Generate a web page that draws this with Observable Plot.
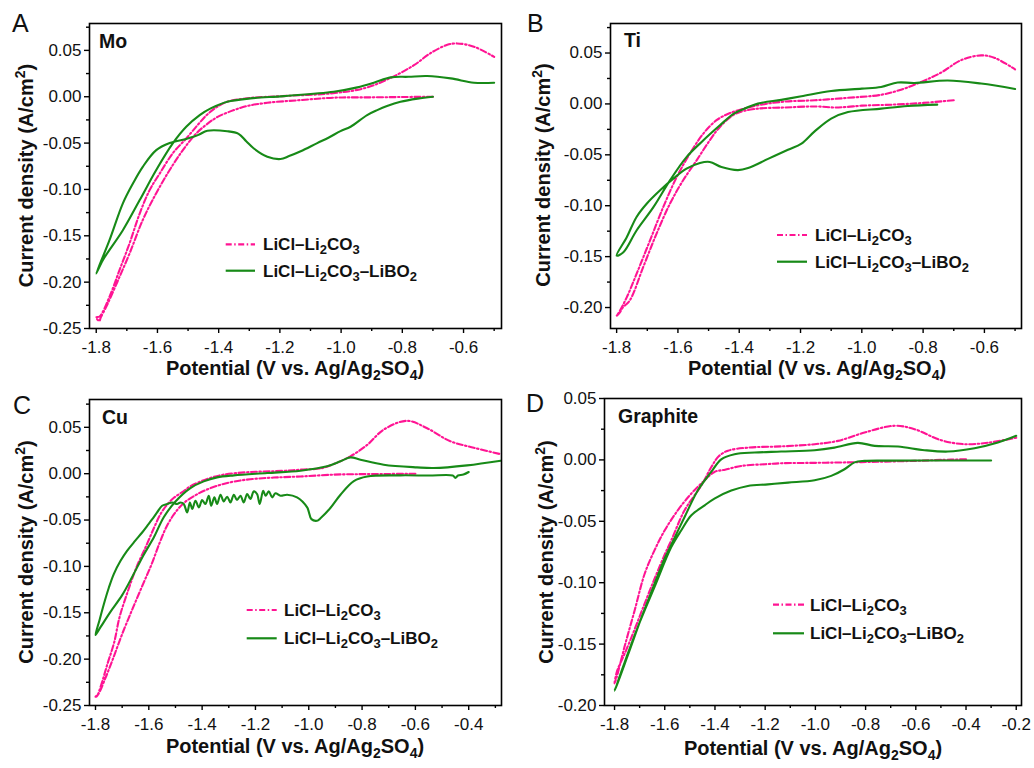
<!DOCTYPE html>
<html>
<head>
<meta charset="utf-8">
<script src="https://cdn.jsdelivr.net/npm/d3@7"></script>
<script src="https://cdn.jsdelivr.net/npm/@observablehq/plot@0.6"></script>
<style>
  html, body { margin: 0; padding: 0; background: #fff; }
  #fig { position: relative; width: 1034px; height: 768px; overflow: hidden; }
  #fig svg { position: absolute; }
</style>
</head>
<body>
<div id="fig"></div>
<script>
// ---------------- DATA (potential V, current density A/cm2), in scan order ----------------
const moPink = [[-0.70,0.000],[-0.80,-0.0003],[-0.915,-0.0007],[-1.024,-0.001],[-1.132,-0.0036],[-1.241,-0.0065],[-1.307,-0.010],[-1.35,-0.0144],[-1.405,-0.022],[-1.44,-0.030],[-1.473,-0.0395],[-1.517,-0.0576],[-1.56,-0.079],[-1.604,-0.104],[-1.648,-0.133],[-1.691,-0.169],[-1.73,-0.199],[-1.765,-0.225],[-1.785,-0.238],[-1.79,-0.242],[-1.80,-0.238],
  [-1.789,-0.237],[-1.757,-0.216],[-1.724,-0.187],[-1.691,-0.158],[-1.658,-0.126],[-1.626,-0.101],[-1.593,-0.083],[-1.55,-0.061],[-1.506,-0.045],[-1.47,-0.031],[-1.44,-0.020],[-1.41,-0.012],[-1.372,-0.0054],[-1.30,-0.0014],[-1.19,0.0007],[-1.02,0.004],[-0.915,0.010],[-0.828,0.022],[-0.762,0.034],[-0.708,0.047],[-0.653,0.056],[-0.621,0.0575],[-0.566,0.054],[-0.50,0.043]];
const moGreen = [[-0.70,0.000],[-0.75,-0.002],[-0.806,-0.0054],[-0.85,-0.010],[-0.882,-0.0144],[-0.915,-0.0198],[-0.969,-0.0324],[-1.002,-0.0371],[-1.04,-0.044],[-1.078,-0.050],[-1.132,-0.0588],[-1.17,-0.064],[-1.198,-0.0672],[-1.241,-0.0647],[-1.285,-0.0558],[-1.31,-0.048],[-1.335,-0.040],[-1.372,-0.0372],[-1.437,-0.0367],[-1.462,-0.0405],[-1.48,-0.043],[-1.506,-0.0455],[-1.56,-0.0500],[-1.604,-0.0576],[-1.648,-0.0756],[-1.68,-0.0935],[-1.713,-0.115],[-1.757,-0.155],[-1.80,-0.1907],
  [-1.778,-0.176],[-1.713,-0.144],[-1.658,-0.1115],[-1.604,-0.079],[-1.55,-0.0503],[-1.506,-0.0324],[-1.462,-0.0198],[-1.426,-0.0126],[-1.372,-0.0054],[-1.296,-0.0018],[-1.187,0.0007],[-1.024,0.0054],[-0.947,0.0101],[-0.893,0.0151],[-0.838,0.0209],[-0.78,0.0215],[-0.719,0.0223],[-0.642,0.0198],[-0.566,0.0151],[-0.50,0.0151]];

const tiPink = [[-0.70,0.0036],[-0.80,0.001],[-0.90,-0.0007],[-1.00,-0.0017],[-1.05,-0.003],[-1.09,-0.0035],[-1.15,-0.0025],[-1.25,-0.0035],[-1.35,-0.005],[-1.414,-0.010],[-1.463,-0.0226],[-1.496,-0.0357],[-1.539,-0.0554],[-1.583,-0.075],[-1.626,-0.098],[-1.67,-0.1276],[-1.713,-0.160],[-1.757,-0.193],[-1.78,-0.200],[-1.79,-0.205],[-1.80,-0.208],
  [-1.795,-0.206],[-1.767,-0.19],[-1.735,-0.167],[-1.691,-0.134],[-1.648,-0.1014],[-1.604,-0.0719],[-1.561,-0.0488],[-1.517,-0.0291],[-1.474,-0.016],[-1.43,-0.009],[-1.35,-0.002],[-1.263,0.002],[-1.154,0.0036],[-1.045,0.006],[-0.937,0.009],[-0.872,0.014],[-0.806,0.0216],[-0.74,0.031],[-0.676,0.043],[-0.611,0.0477],[-0.568,0.0454],[-0.50,0.034]];
const tiGreen = [[-0.754,-0.0007],[-0.85,-0.002],[-0.937,-0.0046],[-1.045,-0.008],[-1.10,-0.0144],[-1.154,-0.027],[-1.197,-0.039],[-1.241,-0.045],[-1.306,-0.054],[-1.371,-0.063],[-1.404,-0.065],[-1.458,-0.062],[-1.496,-0.057],[-1.528,-0.058],[-1.572,-0.0636],[-1.615,-0.0734],[-1.659,-0.085],[-1.702,-0.098],[-1.735,-0.111],[-1.767,-0.131],[-1.80,-0.149],
  [-1.778,-0.1457],[-1.735,-0.1243],[-1.68,-0.1014],[-1.626,-0.0751],[-1.572,-0.0522],[-1.517,-0.0357],[-1.463,-0.021],[-1.42,-0.010],[-1.393,-0.006],[-1.339,0.0003],[-1.263,0.004],[-1.197,0.0075],[-1.10,0.0127],[-1.00,0.015],[-0.937,0.0167],[-0.883,0.021],[-0.828,0.0206],[-0.72,0.023],[-0.611,0.020],[-0.50,0.0147]];

const cuPink = [[-0.60,0.000],[-0.70,-0.0003],[-0.80,-0.0005],[-0.906,-0.001],[-1.031,-0.003],[-1.131,-0.0042],[-1.22,-0.006],[-1.281,-0.0085],[-1.331,-0.012],[-1.381,-0.017],[-1.43,-0.024],[-1.47,-0.032],[-1.506,-0.044],[-1.535,-0.058],[-1.56,-0.075],[-1.59,-0.098],[-1.62,-0.118],[-1.66,-0.145],[-1.70,-0.173],[-1.735,-0.200],[-1.765,-0.222],[-1.79,-0.238],[-1.80,-0.2405],
  [-1.795,-0.24],[-1.78,-0.229],[-1.755,-0.205],[-1.73,-0.182],[-1.71,-0.155],[-1.68,-0.128],[-1.645,-0.100],[-1.61,-0.078],[-1.58,-0.058],[-1.555,-0.043],[-1.53,-0.033],[-1.506,-0.026],[-1.47,-0.019],[-1.444,-0.0135],[-1.381,-0.0057],[-1.319,-0.001],[-1.219,0.0018],[-1.10,0.003],[-1.031,0.0043],[-0.95,0.006],[-0.906,0.0104],[-0.844,0.0187],[-0.781,0.031],[-0.719,0.0475],[-0.631,0.057],[-0.556,0.049],[-0.469,0.035],[-0.381,0.028],[-0.28,0.021]];
const cuGreen = [[-0.40,0.0018],[-0.42,-0.001],[-0.44,-0.002],[-0.45,-0.0045],[-0.46,-0.002],[-0.55,-0.002],[-0.656,-0.0018],[-0.781,-0.003],[-0.831,-0.008],[-0.881,-0.0227],[-0.919,-0.037],[-0.956,-0.048],[-0.969,-0.0508],[-0.99,-0.049],[-1.006,-0.0364],[-1.044,-0.0256],[-1.081,-0.0227],[-1.106,-0.0238],
  [-1.125,-0.0212],[-1.137,-0.0256],[-1.150,-0.0191],[-1.162,-0.0238],[-1.171,-0.0184],[-1.184,-0.0327],[-1.194,-0.0219],[-1.206,-0.0191],[-1.219,-0.0273],[-1.231,-0.0219],[-1.244,-0.031],[-1.256,-0.0238],[-1.269,-0.0284],[-1.281,-0.0227],[-1.294,-0.031],[-1.306,-0.0248],[-1.319,-0.0299],[-1.331,-0.0227],[-1.344,-0.0327],[-1.354,-0.0256],[-1.366,-0.0346],[-1.375,-0.0238],[-1.388,-0.0327],[-1.40,-0.0284],[-1.412,-0.0364],[-1.425,-0.0292],[-1.437,-0.0381],[-1.446,-0.031],[-1.456,-0.0418],[-1.469,-0.0327],[-1.481,-0.031],[-1.494,-0.0327],[-1.512,-0.031],[-1.531,-0.0327],[-1.55,-0.0346],[-1.569,-0.0418],[-1.587,-0.049],[-1.606,-0.0562],[-1.625,-0.0634],[-1.65,-0.072],[-1.681,-0.083],[-1.706,-0.094],[-1.731,-0.108],[-1.75,-0.123],[-1.769,-0.141],[-1.785,-0.158],[-1.80,-0.174],
  [-1.78,-0.165],[-1.744,-0.149],[-1.70,-0.131],[-1.66,-0.110],[-1.62,-0.088],[-1.58,-0.068],[-1.544,-0.047],[-1.50,-0.030],[-1.444,-0.0155],[-1.394,-0.0083],[-1.344,-0.004],[-1.281,-0.0018],[-1.156,0.0007],[-1.031,0.0032],[-0.931,0.0079],[-0.881,0.0133],[-0.844,0.0176],[-0.806,0.0151],[-0.719,0.0097],[-0.594,0.0068],[-0.531,0.0061],[-0.406,0.009],[-0.28,0.014]];

const grPink = [[-0.40,0.0005],[-0.50,0.000],[-0.605,-0.0008],[-0.75,-0.0015],[-0.87,-0.002],[-1.003,-0.0024],[-1.136,-0.0027],[-1.20,-0.0035],[-1.295,-0.0049],[-1.36,-0.008],[-1.402,-0.0098],[-1.441,-0.0166],[-1.494,-0.0274],[-1.548,-0.041],[-1.60,-0.0573],[-1.641,-0.0737],[-1.68,-0.0927],[-1.72,-0.1226],[-1.76,-0.152],[-1.793,-0.178],[-1.80,-0.182],
  [-1.79,-0.172],[-1.76,-0.158],[-1.72,-0.138],[-1.68,-0.117],[-1.641,-0.097],[-1.60,-0.077],[-1.574,-0.0655],[-1.521,-0.041],[-1.455,-0.021],[-1.415,-0.006],[-1.385,0.003],[-1.348,0.0075],[-1.269,0.010],[-1.136,0.011],[-1.003,0.0128],[-0.91,0.0155],[-0.804,0.0223],[-0.684,0.0278],[-0.605,0.025],[-0.499,0.016],[-0.406,0.0128],[-0.313,0.014],[-0.20,0.018]];
const grGreen = [[-0.30,-0.0005],[-0.50,-0.0005],[-0.70,-0.0006],[-0.804,-0.0008],[-0.844,-0.002],[-0.884,-0.0076],[-0.937,-0.013],[-1.003,-0.0166],[-1.109,-0.0185],[-1.189,-0.0199],[-1.269,-0.0212],[-1.335,-0.025],[-1.402,-0.0315],[-1.441,-0.037],[-1.494,-0.0451],[-1.534,-0.0573],[-1.574,-0.071],[-1.641,-0.1036],[-1.707,-0.136],[-1.76,-0.165],[-1.80,-0.188],
  [-1.79,-0.183],[-1.747,-0.159],[-1.694,-0.129],[-1.641,-0.101],[-1.60,-0.080],[-1.574,-0.069],[-1.521,-0.0465],[-1.468,-0.0247],[-1.415,-0.0098],[-1.375,0.0005],[-1.322,0.0046],[-1.242,0.006],[-1.136,0.0068],[-1.003,0.0079],[-0.924,0.010],[-0.831,0.0139],[-0.764,0.0114],[-0.671,0.0109],[-0.565,0.0079],[-0.472,0.0068],[-0.366,0.0095],[-0.273,0.0141],[-0.20,0.0196]];

// ---------------- TICKS ----------------
const xTicksAB = [-1.8,-1.6,-1.4,-1.2,-1.0,-0.8,-0.6];
const xMinorAB = [-1.7,-1.5,-1.3,-1.1,-0.9,-0.7,-0.5];
const xTicksC = [-1.8,-1.6,-1.4,-1.2,-1.0,-0.8,-0.6,-0.4];
const xMinorC = [-1.7,-1.5,-1.3,-1.1,-0.9,-0.7,-0.5,-0.3];
const xTicksD = [-1.8,-1.6,-1.4,-1.2,-1.0,-0.8,-0.6,-0.4,-0.2];
const xMinorD = [-1.7,-1.5,-1.3,-1.1,-0.9,-0.7,-0.5,-0.3];
const yTicksAC = [-0.25,-0.20,-0.15,-0.10,-0.05,0.00,0.05];
const yMinorAC = [-0.225,-0.175,-0.125,-0.075,-0.025,0.025,0.075];
const yTicksB = [-0.20,-0.15,-0.10,-0.05,0.00,0.05];
const yMinorB = [-0.175,-0.125,-0.075,-0.025,0.025,0.075];
const yTicksD = [-0.20,-0.15,-0.10,-0.05,0.00,0.05];
const yMinorD = [-0.175,-0.125,-0.075,-0.025,0.025];

// ---------------- TEXT ----------------
const letters = ["A","B","C","D"];
const metals = ["Mo","Ti","Cu","Graphite"];
const seriesNames = ["LiCl–Li₂CO₃","LiCl–Li₂CO₃–LiBO₂"];

const PINK = "#ff1493", GREEN = "#178a17";
const DASH = "6,2.5,1.5,2.5";
const FONT = "'Liberation Sans', Arial, Helvetica, sans-serif";

// ---------------- LAYOUT ----------------
const panels = [
  {left:0, top:0, w:517, h:384, m:[89,16,23,56], xd:[-1.822,-0.476], yd:[-0.25,0.079], xt:xTicksAB, xm:xMinorAB, yt:yTicksAC, ym:yMinorAC, pink:moPink, green:moGreen,
   letter:[12,32], metal:[99,48], xTitle:[295,375], yTitle:[26,175.5], leg:[225.7,255,244.3,270.7,263]},
  {left:517, top:0, w:517, h:384, m:[93,13,23,56], xd:[-1.82,-0.479], yd:[-0.2206,0.079], xt:xTicksAB, xm:xMinorAB, yt:yTicksB, ym:yMinorB, pink:tiPink, green:tiGreen,
   letter:[527,32], metal:[624,47], xTitle:[817,375], yTitle:[543,175], leg:[777,807,235,261.7,815]},
  {left:0, top:384, w:517, h:384, m:[89,16,15,63], xd:[-1.8225,-0.277], yd:[-0.25,0.08], xt:xTicksC, xm:xMinorC, yt:yTicksAC, ym:yMinorAC, pink:cuPink, green:cuGreen,
   letter:[13,414], metal:[102,424], xTitle:[295,753], yTitle:[26,552], leg:[246.7,276.7,610,638.3,284]},
  {left:517, top:384, w:517, h:384, m:[87,13,14,63], xd:[-1.84,-0.179], yd:[-0.2,0.05], xt:xTicksD, xm:xMinorD, yt:yTicksD, ym:yMinorD, pink:grPink, green:grGreen,
   letter:[526,412], metal:[618,422.5], xTitle:[813,755], yTitle:[546,552], leg:[773,804,604.7,633.3,810]}
];

const fig = document.getElementById("fig");

panels.forEach(p => {
  const chart = Plot.plot({
    width: p.w, height: p.h,
    marginLeft: p.m[0], marginRight: p.m[1], marginTop: p.m[2], marginBottom: p.m[3],
    x: {domain: p.xd}, y: {domain: p.yd},
    style: {fontFamily: FONT, fontSize: "17px", color: "#111", background: "transparent", overflow: "visible"},
    marks: [
      Plot.line(p.pink, {x: d => d[0], y: d => d[1], stroke: PINK, strokeWidth: 2.1, strokeDasharray: DASH, curve: "catmull-rom", clip: true}),
      Plot.line(p.green, {x: d => d[0], y: d => d[1], stroke: GREEN, strokeWidth: 2.1, curve: "catmull-rom", clip: true}),
      Plot.axisX(p.xt, {tickSize: 5, tickPadding: 7, tickFormat: d => d.toFixed(1), label: null, strokeWidth: 1.4, stroke: "#000"}),
      Plot.axisX(p.xm, {tickSize: 3, tickFormat: () => "", label: null, strokeWidth: 1.4, stroke: "#000"}),
      Plot.axisY(p.yt, {tickSize: 5, tickPadding: 3, tickFormat: d => d.toFixed(2), label: null, strokeWidth: 1.4, stroke: "#000"}),
      Plot.axisY(p.ym, {tickSize: 3, tickFormat: () => "", label: null, strokeWidth: 1.4, stroke: "#000"}),
      Plot.frame({stroke: "#000", strokeWidth: 1.6})
    ]
  });
  chart.style.left = p.left + "px";
  chart.style.top = p.top + "px";
  fig.appendChild(chart);
});

// ---------------- OVERLAY TEXT (titles, labels, legends) ----------------
function sub(t, size, shift) {
  return `<tspan dy="${shift}" font-size="${size}">${t}</tspan><tspan dy="${-shift}">`;
}
function withSubs(str, size, shift) {
  const map = {"₂":"2","₃":"3","₄":"4"};
  let out = "<tspan>";
  for (const ch of str) {
    if (map[ch]) out += `</tspan>` + sub(map[ch], size, shift);
    else out += ch;
  }
  return out + "</tspan>";
}
let ov = `<svg width="1034" height="768" viewBox="0 0 1034 768" style="left:0;top:0;pointer-events:none" font-family="${FONT}" fill="#111">`;
panels.forEach((p, i) => {
  ov += `<text x="${p.letter[0]}" y="${p.letter[1]}" font-size="25">${letters[i]}</text>`;
  ov += `<text x="${p.metal[0]}" y="${p.metal[1]}" font-size="19.5" font-weight="bold">${metals[i]}</text>`;
  ov += `<text x="${p.xTitle[0]}" y="${p.xTitle[1]}" font-size="20" font-weight="bold" text-anchor="middle">${withSubs("Potential (V vs. Ag/Ag₂SO₄)", 14, 5)}</text>`;
  ov += `<text transform="translate(${p.yTitle[0]},${p.yTitle[1]}) rotate(-90)" x="0" y="7" font-size="20" font-weight="bold" text-anchor="middle">Current density (A/cm<tspan dy="-8" font-size="14">2</tspan><tspan dy="8">)</tspan></text>`;
  const [x1, x2, y1, y2, tx] = p.leg;
  ov += `<line x1="${x1}" x2="${x2}" y1="${y1}" y2="${y1}" stroke="${PINK}" stroke-width="2.2" stroke-dasharray="${DASH}"/>`;
  ov += `<line x1="${x1}" x2="${x2}" y1="${y2}" y2="${y2}" stroke="${GREEN}" stroke-width="2.2"/>`;
  ov += `<text x="${tx}" y="${y1 + 6}" font-size="17" font-weight="bold">${withSubs(seriesNames[0], 13, 4)}</text>`;
  ov += `<text x="${tx}" y="${y2 + 6}" font-size="17" font-weight="bold">${withSubs(seriesNames[1], 13, 4)}</text>`;
});
ov += `</svg>`;
fig.insertAdjacentHTML("beforeend", ov);
</script>
</body>
</html>
